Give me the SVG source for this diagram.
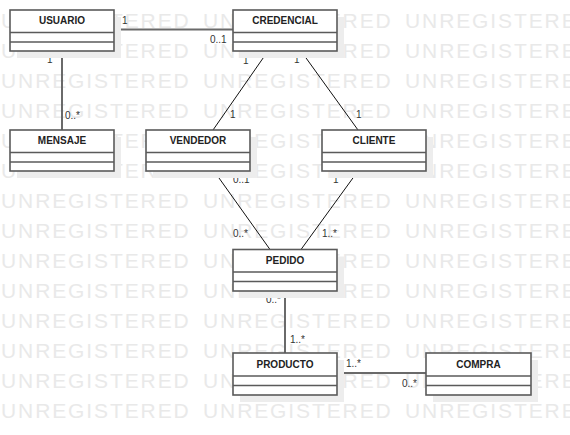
<svg xmlns="http://www.w3.org/2000/svg" width="570" height="435" viewBox="0 0 570 435">
<style>
.wm{font-family:"Liberation Sans",Arial,sans-serif;font-size:21px;letter-spacing:1.9px;fill:#e9e9e9}
.sh{fill:#ededed}
.box{fill:#fff;stroke:#5a5a5a;stroke-width:1.6}
.div{stroke:#5a5a5a;stroke-width:1.6}
.name{font-family:"Liberation Sans",Arial,sans-serif;font-size:10px;font-weight:bold;fill:#222;text-anchor:middle}
.thick{stroke:#6a6a6a;stroke-width:2;fill:none}
.thin{stroke:#111;stroke-width:1;fill:none}
.m{font-family:"Liberation Sans",Arial,sans-serif;font-size:10px;fill:#333}
</style>
<rect width="570" height="435" fill="#fff"/>
<g id="watermark">
<text class="wm" x="1" y="28">UNREGISTERED</text><text class="wm" x="203" y="28">UNREGISTERED</text><text class="wm" x="405" y="28">UNREGISTERED</text>
<text class="wm" x="1" y="58">UNREGISTERED</text><text class="wm" x="203" y="58">UNREGISTERED</text><text class="wm" x="405" y="58">UNREGISTERED</text>
<text class="wm" x="1" y="88">UNREGISTERED</text><text class="wm" x="203" y="88">UNREGISTERED</text><text class="wm" x="405" y="88">UNREGISTERED</text>
<text class="wm" x="1" y="118">UNREGISTERED</text><text class="wm" x="203" y="118">UNREGISTERED</text><text class="wm" x="405" y="118">UNREGISTERED</text>
<text class="wm" x="1" y="148">UNREGISTERED</text><text class="wm" x="203" y="148">UNREGISTERED</text><text class="wm" x="405" y="148">UNREGISTERED</text>
<text class="wm" x="1" y="178">UNREGISTERED</text><text class="wm" x="203" y="178">UNREGISTERED</text><text class="wm" x="405" y="178">UNREGISTERED</text>
<text class="wm" x="1" y="208">UNREGISTERED</text><text class="wm" x="203" y="208">UNREGISTERED</text><text class="wm" x="405" y="208">UNREGISTERED</text>
<text class="wm" x="1" y="238">UNREGISTERED</text><text class="wm" x="203" y="238">UNREGISTERED</text><text class="wm" x="405" y="238">UNREGISTERED</text>
<text class="wm" x="1" y="268">UNREGISTERED</text><text class="wm" x="203" y="268">UNREGISTERED</text><text class="wm" x="405" y="268">UNREGISTERED</text>
<text class="wm" x="1" y="298">UNREGISTERED</text><text class="wm" x="203" y="298">UNREGISTERED</text><text class="wm" x="405" y="298">UNREGISTERED</text>
<text class="wm" x="1" y="328">UNREGISTERED</text><text class="wm" x="203" y="328">UNREGISTERED</text><text class="wm" x="405" y="328">UNREGISTERED</text>
<text class="wm" x="1" y="358">UNREGISTERED</text><text class="wm" x="203" y="358">UNREGISTERED</text><text class="wm" x="405" y="358">UNREGISTERED</text>
<text class="wm" x="1" y="388">UNREGISTERED</text><text class="wm" x="203" y="388">UNREGISTERED</text><text class="wm" x="405" y="388">UNREGISTERED</text>
<text class="wm" x="1" y="418">UNREGISTERED</text><text class="wm" x="203" y="418">UNREGISTERED</text><text class="wm" x="405" y="418">UNREGISTERED</text>
</g>
<g id="connectors">
<line class="thick" x1="114" y1="29.5" x2="233" y2="29.5"/>
<line class="thick" x1="62" y1="51" x2="62" y2="130"/>
<line class="thin" x1="268" y1="51" x2="213" y2="130"/>
<line class="thin" x1="301" y1="51" x2="358" y2="130"/>
<line class="thin" x1="214" y1="171" x2="270" y2="249.5"/>
<line class="thin" x1="358" y1="171" x2="301" y2="249.5"/>
<line class="thick" x1="285" y1="291" x2="285" y2="353"/>
<line class="thick" x1="337" y1="373" x2="426" y2="373"/>
<text class="m" x="122" y="24">1</text>
<text class="m" x="210" y="43">0..1</text>
<text class="m" x="47" y="63">1</text>
<text class="m" x="65" y="119">0..*</text>
<text class="m" x="243" y="64">1</text>
<text class="m" x="230" y="118">1</text>
<text class="m" x="294" y="63">1</text>
<text class="m" x="356" y="118">1</text>
<text class="m" x="233" y="183">0..1</text>
<text class="m" x="233" y="237">0..*</text>
<text class="m" x="333" y="183">1</text>
<text class="m" x="322" y="237">1..*</text>
<text class="m" x="266" y="303">0..*</text>
<text class="m" x="290" y="343">1..*</text>
<text class="m" x="346" y="367">1..*</text>
<text class="m" x="402" y="387">0..*</text>
</g>
<g id="USUARIO">
<rect class="sh" x="17" y="17" width="104" height="41"/>
<rect class="box" x="10" y="10" width="104" height="41"/>
<line class="div" x1="10" y1="32.5" x2="114" y2="32.5"/><line class="div" x1="10" y1="42" x2="114" y2="42"/>
<text class="name" x="62" y="24">USUARIO</text>
</g>
<g id="CREDENCIAL">
<rect class="sh" x="240" y="17" width="104" height="41"/>
<rect class="box" x="233" y="10" width="104" height="41"/>
<line class="div" x1="233" y1="32.5" x2="337" y2="32.5"/><line class="div" x1="233" y1="42" x2="337" y2="42"/>
<text class="name" x="285" y="24">CREDENCIAL</text>
</g>
<g id="MENSAJE">
<rect class="sh" x="17" y="137" width="104" height="41"/>
<rect class="box" x="10" y="130" width="104" height="41"/>
<line class="div" x1="10" y1="152.5" x2="114" y2="152.5"/><line class="div" x1="10" y1="162" x2="114" y2="162"/>
<text class="name" x="62" y="144">MENSAJE</text>
</g>
<g id="VENDEDOR">
<rect class="sh" x="153" y="137" width="104" height="41"/>
<rect class="box" x="146" y="130" width="104" height="41"/>
<line class="div" x1="146" y1="152.5" x2="250" y2="152.5"/><line class="div" x1="146" y1="162" x2="250" y2="162"/>
<text class="name" x="198" y="144">VENDEDOR</text>
</g>
<g id="CLIENTE">
<rect class="sh" x="329" y="137" width="104" height="41"/>
<rect class="box" x="322" y="130" width="104" height="41"/>
<line class="div" x1="322" y1="152.5" x2="426" y2="152.5"/><line class="div" x1="322" y1="162" x2="426" y2="162"/>
<text class="name" x="374" y="144">CLIENTE</text>
</g>
<g id="PEDIDO">
<rect class="sh" x="240" y="256.5" width="104" height="41.5"/>
<rect class="box" x="233" y="249.5" width="104" height="41.5"/>
<line class="div" x1="233" y1="272" x2="337" y2="272"/><line class="div" x1="233" y1="281.5" x2="337" y2="281.5"/>
<text class="name" x="285" y="264">PEDIDO</text>
</g>
<g id="PRODUCTO">
<rect class="sh" x="240" y="360" width="104" height="42"/>
<rect class="box" x="233" y="353" width="104" height="42"/>
<line class="div" x1="233" y1="376" x2="337" y2="376"/><line class="div" x1="233" y1="385.5" x2="337" y2="385.5"/>
<text class="name" x="285" y="367.5">PRODUCTO</text>
</g>
<g id="COMPRA">
<rect class="sh" x="433" y="360" width="105" height="42"/>
<rect class="box" x="426" y="353" width="105" height="42"/>
<line class="div" x1="426" y1="376" x2="531" y2="376"/><line class="div" x1="426" y1="385.5" x2="531" y2="385.5"/>
<text class="name" x="478.5" y="367.5">COMPRA</text>
</g>
</svg>
